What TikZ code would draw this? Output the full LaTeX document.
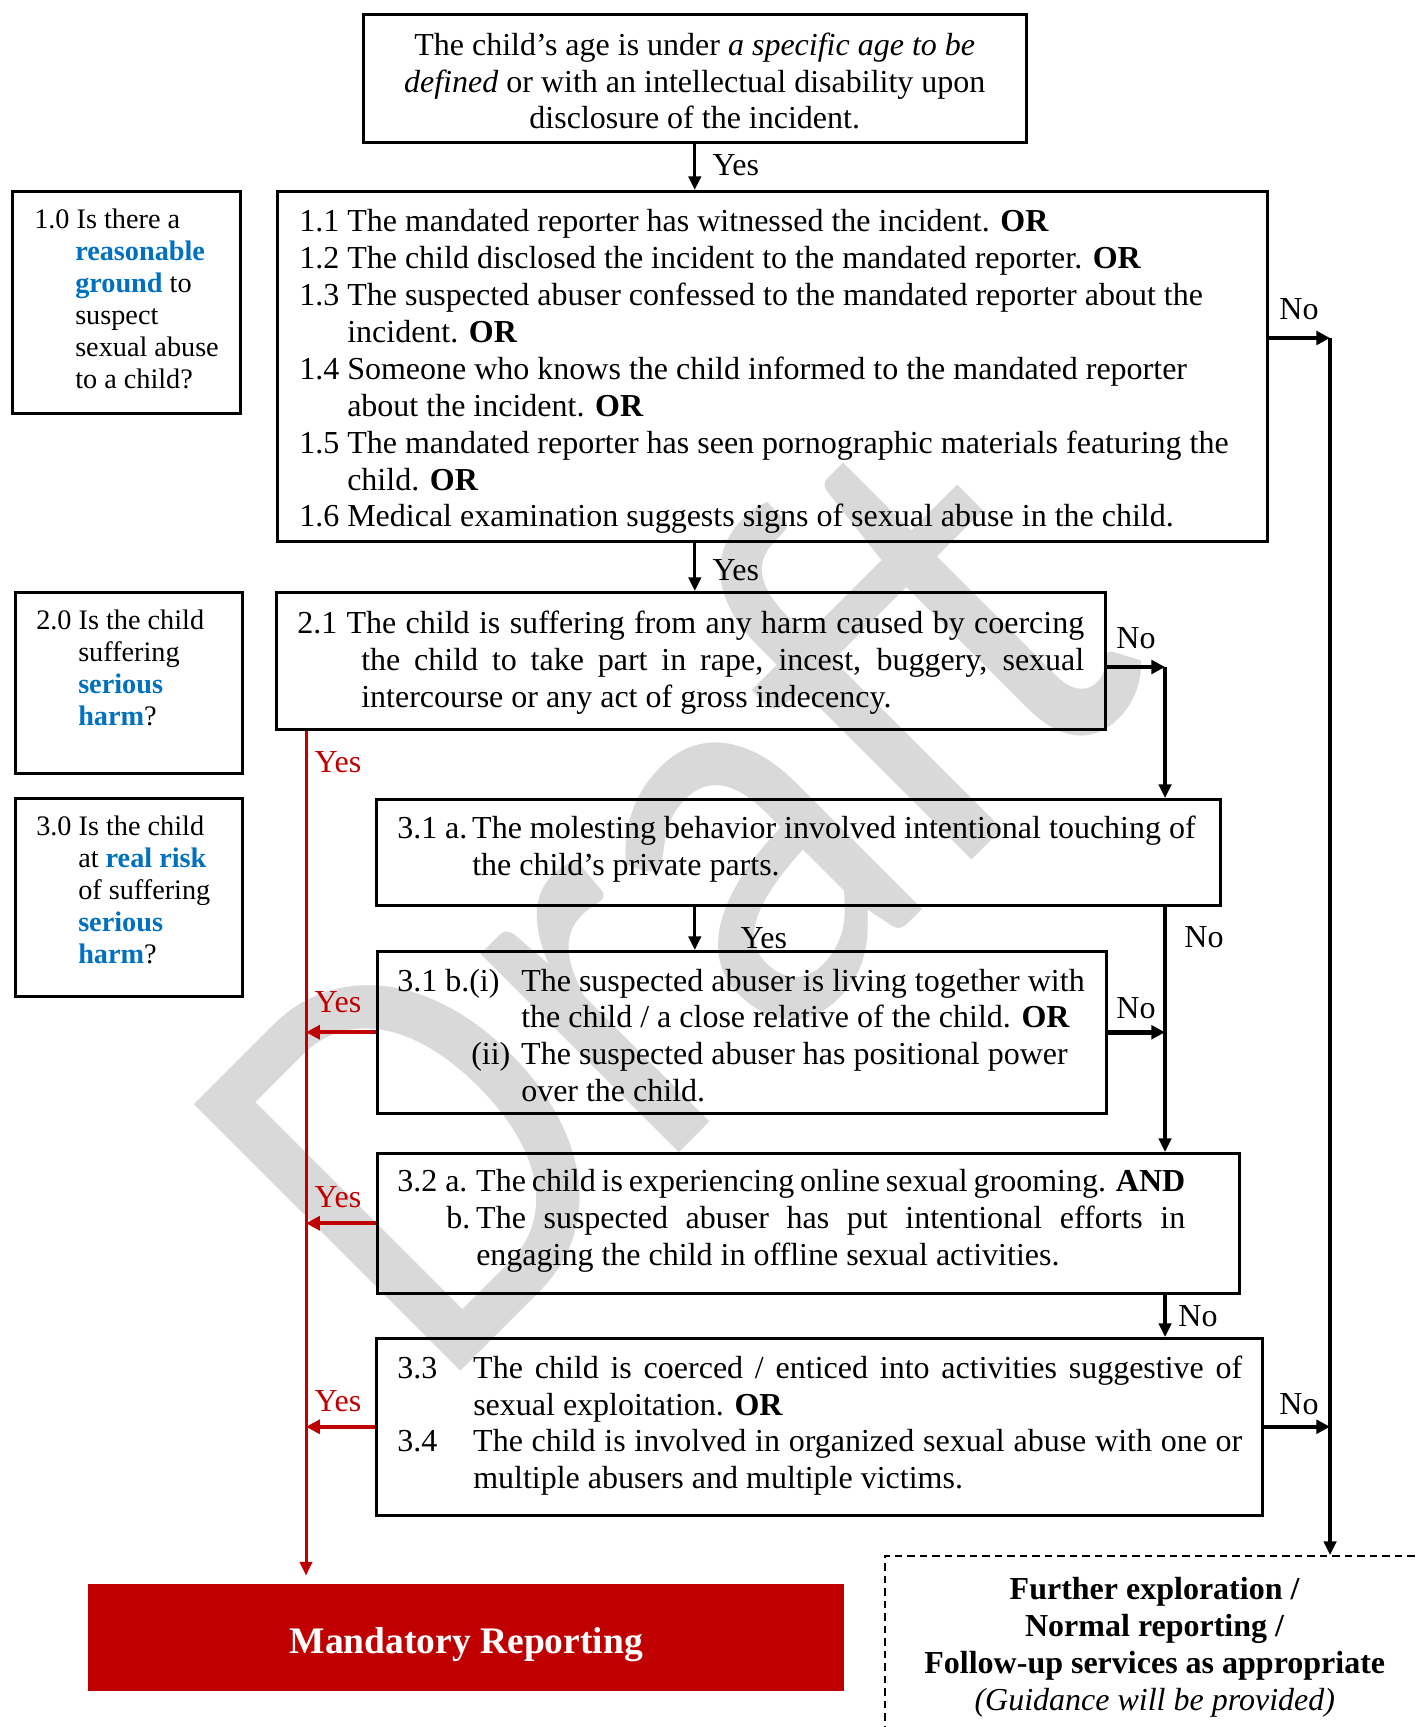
\documentclass[tikz,border=0pt]{standalone}
\usepackage{fontspec}
\setmainfont{Liberation Serif}
\newfontfamily\wmfont{Carlito}
\usetikzlibrary{arrows.meta}
\definecolor{myred}{HTML}{C00000}
\definecolor{myblue}{HTML}{0070C0}
\definecolor{wmgray}{HTML}{D9D9D9}
\newcommand\mainfs{\fontsize{12.8}{14.75}\selectfont}
\newcommand\sidefs{\fontsize{11.3}{12.8}\selectfont}
\newcommand\hng[1]{\hangindent=#1\hangafter=1\relax}
\newcommand\bl[1]{\textcolor{myblue}{\textbf{#1}}}
\begin{document}
\begin{tikzpicture}[x=0.4pt,y=-0.4pt,
  box/.style={draw, line width=1pt, inner sep=0pt, anchor=north west},
  lab/.style={font=\mainfs, inner sep=0pt},
  redlab/.style={lab, text=myred},
  arr/.style={line width=1.25pt, -{Triangle[length=5.5pt,width=5pt]}},
  arrthick/.style={line width=1.8pt, -{Triangle[length=5.5pt,width=5.5pt]}},
  redarr/.style={myred, line width=1.2pt, -{Triangle[length=5.5pt,width=5pt]}},
  redthick/.style={myred, line width=1.6pt, -{Triangle[length=5.5pt,width=5.5pt]}}]
\useasboundingbox (0,0) rectangle (1416,1727);
\clip (0,0) rectangle (1416,1727);
% watermark
\node[anchor=base west, rotate=45, inner sep=0pt, text=wmgray, font=\wmfont\fontsize{235}{235}\selectfont] (wm) at (436,1396) {\scalebox{0.86}[1]{Draft}};
% boxes
\node[box] (top) at (362,13) {\parbox[c][51.2pt][c]{265.2pt}{\centering\mainfs\vspace*{2.2pt}
The child's age is under \textit{a specific age to be}\\
\textit{defined} or with an intellectual disability upon\\
disclosure of the incident.}};
\node[box] (l1) at (11,190) {\parbox[c][88.8pt][t]{91.2pt}{\sidefs\leftskip=8.8pt\rightskip=0pt plus 1fil
\hng{16.4pt}\rule{0pt}{14.8pt}1.0 Is there a\\ \bl{reasonable}\\ \bl{ground} to\\ suspect\\ sexual abuse\\ to a child?}};
\node[box] (b1) at (276,190) {\parbox[c][140pt][c]{396pt}{\mainfs\leftskip=8.8pt\rightskip=0pt plus 1fil\vspace*{4.4pt}
\hng{19.2pt}1.1 The mandated reporter has witnessed the incident. \textbf{OR}\par
\hng{19.2pt}1.2 The child disclosed the incident to the mandated reporter. \textbf{OR}\par
\hng{19.2pt}1.3 The suspected abuser confessed to the mandated reporter about the\\ incident. \textbf{OR}\par
\hng{19.2pt}1.4 Someone who knows the child informed to the mandated reporter\\ about the incident. \textbf{OR}\par
\hng{19.2pt}1.5 The mandated reporter has seen pornographic materials featuring the\\ child. \textbf{OR}\par
\hng{19.2pt}1.6 Medical examination suggests signs of sexual abuse in the child.}};
\node[box] (l2) at (14,591) {\parbox[c][72.4pt][t]{90.8pt}{\sidefs\leftskip=8.4pt\rightskip=0pt plus 1fil
\hng{16.8pt}\rule{0pt}{15pt}2.0 Is the child\\ suffering\\ \bl{serious}\\ \bl{harm}?}};
\node[box] (b2) at (275,591) {\parbox[c][54.8pt][c]{331.6pt}{\mainfs\leftskip=8.4pt\rightskip=8.4pt\vspace*{1.4pt}
\hng{25.6pt}2.1 The child is suffering from any harm caused by coercing\linebreak the child to take part in rape, incest, buggery, sexual\linebreak intercourse or any act of gross indecency.}};
\node[box] (l3) at (14,797) {\parbox[c][79.2pt][t]{90.8pt}{\sidefs\leftskip=8.4pt\rightskip=0pt plus 1fil
\hng{16.8pt}\rule{0pt}{14.8pt}3.0 Is the child\\ at \bl{real risk}\\ of suffering\\ \bl{serious}\\ \bl{harm}?}};
\node[box] (b3a) at (375,798) {\parbox[c][42.4pt][c]{337.6pt}{\mainfs\leftskip=8.4pt\rightskip=0pt plus 1fil\vspace*{-2.4pt}
\hng{30pt}\makebox[30pt][l]{3.1 a.}The molesting behavior involved intentional touching of\\ the child's private parts.}};
\node[box] (b3b) at (376,950) {\parbox[c][64.8pt][c]{291.6pt}{\mainfs\leftskip=8pt\rightskip=0pt plus 1fil\vspace*{2.6pt}
\hng{49.6pt}\makebox[49.6pt][l]{3.1 b.(i)}The suspected abuser is living together with\\ the child / a close relative of the child. \textbf{OR}\par
\hng{49.6pt}\makebox[49.6pt][l]{\hspace*{29.6pt}(ii)}The suspected abuser has positional power\\ over the child.}};
\node[box] (b32) at (376,1152) {\parbox[c][56pt][c]{344.8pt}{\mainfs\leftskip=8pt\rightskip=21.6pt\vspace*{-1.8pt}
\hng{31.6pt}\makebox[31.6pt][l]{3.2 a.}The child is experiencing online sexual grooming. \textbf{AND}\hfil\par
\hng{31.6pt}\makebox[31.6pt][l]{\hspace*{19.6pt}b.}The suspected abuser has put intentional efforts in\linebreak engaging the child in offline sexual activities.}};
\node[box] (b33) at (375,1337) {\parbox[c][70.8pt][c]{354.4pt}{\mainfs\leftskip=8.4pt\rightskip=8pt\vspace*{-0.9pt}
\hng{30.4pt}\makebox[30.4pt][l]{3.3}The child is coerced / enticed into activities suggestive of\linebreak sexual exploitation. \textbf{OR}\par
\hng{30.4pt}\makebox[30.4pt][l]{3.4}The child is involved in organized sexual abuse with one or\linebreak multiple abusers and multiple victims.}};
\node[box, draw=none, fill=myred, minimum width=302.4pt, minimum height=42.8pt, text height=12.2pt, text depth=0pt, text=white, font=\fontsize{15}{18}\selectfont\bfseries] (mr) at (87,1583) {Mandatory Reporting};
\node[box, dashed, line width=0.6pt, dash pattern=on 3pt off 2pt] (fx) at (884,1555) {\parbox[c][80pt][t]{216pt}{\centering\mainfs
\rule{0pt}{17.5pt}\textbf{Further exploration /}\\
\textbf{Normal reporting /}\\
\textbf{Follow-up services as appropriate}\\
\textit{(Guidance will be provided)}}};
% helper coordinates
\coordinate (rv) at (1330,338);
\coordinate (c2) at (1165,667);
\coordinate (rl) at (306,700);
% connectors
\draw[arr] (top.south) -- (top.south |- b1.north);
\draw[arr] (b1.south -| top.south) -- (b2.north -| top.south);
\draw[arrthick] (b1.east |- rv) -- (rv);
\draw[arr] (rv) -- (rv |- fx.north);
\draw[arrthick] (b2.east |- c2) -- (c2);
\draw[arr] (c2) -- (c2 |- b3a.north);
\draw[arr] (b3a.south -| top.south) -- (b3b.north -| top.south);
\draw[arr] (b3a.south -| c2) -- (b32.north -| c2);
\draw[arrthick] (b3b.east) -- (b3b.east -| c2);
\draw[arr] (b32.south -| c2) -- (b33.north -| c2);
\draw[arrthick] (b33.east) -- (b33.east -| rv);
\draw[redarr, shorten >=3pt] (b2.south -| rl) -- (rl |- mr.north);
\draw[redthick] (b3b.west) -- (b3b.west -| rl);
\draw[redthick] (b32.west) -- (b32.west -| rl);
\draw[redthick] (b33.west) -- (b33.west -| rl);
% labels
\node[lab, anchor=west] (y1) at (712,165) {Yes};
\node[lab, anchor=west] (y2) at (712,570) {Yes};
\node[lab, anchor=west] (y3) at (740,938) {Yes};
\node[lab] (n1) at (1299,309) {No};
\node[lab] (n2) at (1136,638) {No};
\node[lab] (n3) at (1204,937) {No};
\node[lab] (n4) at (1136,1008) {No};
\node[lab] (n5) at (1198,1316) {No};
\node[lab] (n6) at (1299,1404) {No};
\node[redlab] (r1) at (338,762) {Yes};
\node[redlab] (r2) at (338,1002) {Yes};
\node[redlab] (r3) at (338,1197) {Yes};
\node[redlab] (r4) at (338,1401) {Yes};
\end{tikzpicture}
\end{document}
